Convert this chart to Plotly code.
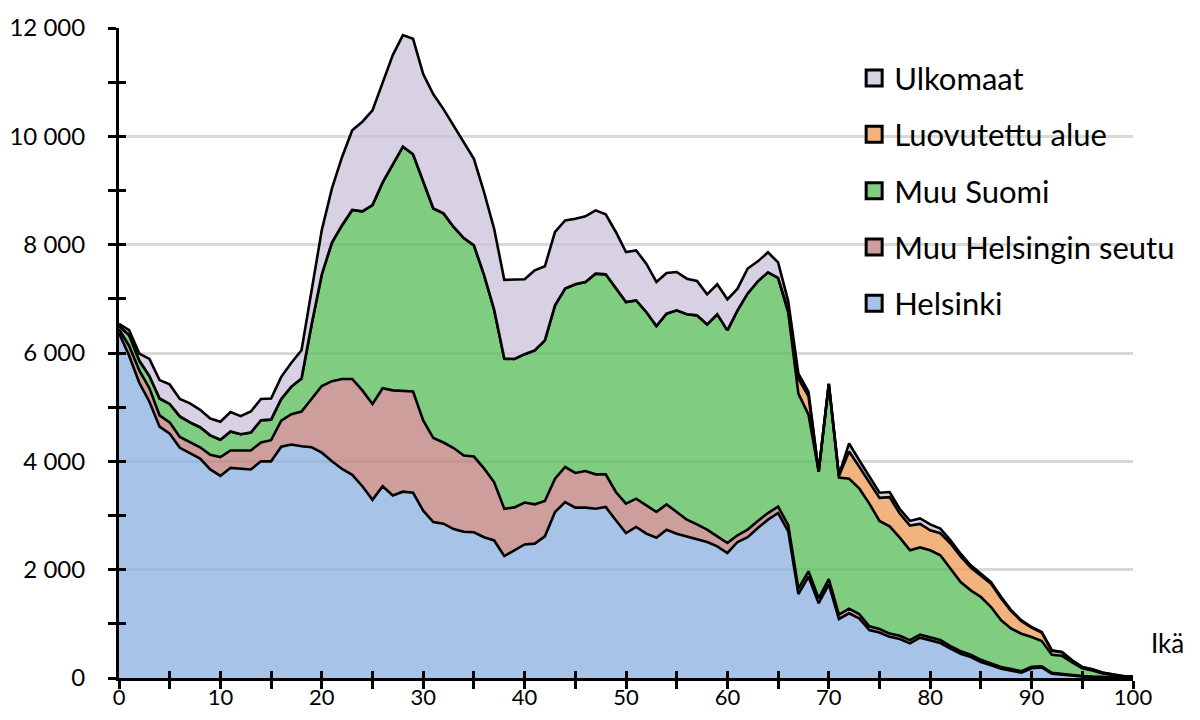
import plotly.graph_objects as go

ika = list(range(0, 101))

helsinki = [6370, 5950, 5450, 5100, 4640, 4510, 4250, 4150, 4050, 3850,
            3730, 3880, 3870, 3850, 4000, 4000, 4270, 4310, 4280, 4260,
            4160, 4000, 3860, 3750, 3540, 3290, 3540, 3370, 3440, 3420,
            3090, 2880, 2850, 2750, 2700, 2690, 2600, 2540, 2250, 2350,
            2465, 2480, 2615, 3065, 3249, 3145, 3145, 3126, 3157, 2911,
            2677, 2788, 2665, 2591, 2738, 2665, 2615, 2554, 2511, 2431,
            2308, 2511, 2600, 2769, 2923, 3046, 2708, 1550, 1870, 1380,
            1730, 1090, 1195, 1100, 885, 840, 760, 720, 640, 745,
            695, 646, 541, 449, 388, 295, 234, 172, 135, 100,
            180, 195, 80, 60, 45, 30, 20, 12, 6, 3, 2]

muu_hki_seutu = [70, 180, 230, 250, 210, 210, 200, 210, 210, 270,
                 350, 320, 330, 350, 350, 390, 480, 560, 640, 890,
                 1230, 1480, 1660, 1770, 1770, 1770, 1810, 1940, 1866, 1870,
                 1665, 1550, 1497, 1495, 1409, 1398, 1270, 1072, 875, 800,
                 775, 726, 653, 615, 646, 640, 677, 634, 603, 523,
                 541, 523, 523, 474, 468, 400, 308, 283, 227, 184,
                 184, 123, 140, 131, 122, 119, 112, 100, 100, 90,
                 95, 80, 85, 80, 70, 65, 60, 60, 60, 55,
                 55, 54, 49, 46, 42, 40, 36, 33, 30, 25,
                 25, 20, 15, 12, 10, 7, 5, 3, 2, 1, 1]

muu_suomi = [60, 200, 180, 225, 310, 340, 380, 360, 370, 360,
             320, 350, 300, 330, 410, 380, 400, 510, 610, 1380,
             2060, 2560, 2840, 3120, 3305, 3670, 3800, 4170, 4504, 4380,
             4422, 4237, 4231, 4082, 4013, 3898, 3572, 3184, 2770, 2740,
             2738, 2843, 2966, 3200, 3293, 3483, 3489, 3705, 3692, 3772,
             3724, 3661, 3569, 3433, 3520, 3723, 3791, 3858, 3791, 4099,
             3926, 4154, 4360, 4423, 4444, 4220, 3920, 3600, 2890, 2340,
             3605, 2530, 2400, 2320, 2265, 1995, 1980, 1810, 1660, 1610,
             1607, 1565, 1428, 1277, 1188, 1160, 1041, 860, 746, 693,
             552, 468, 335, 338, 235, 143, 115, 70, 47, 26, 17]

luovutettu = [0] * 66 + [50, 280, 340, 0, 0, 30, 500, 400, 390, 425,
                         540, 445, 455, 435, 370, 407, 464, 473, 422, 396,
                         431, 405, 318, 232, 173, 156, 73, 64, 31, 20,
                         17, 13, 9, 4, 3]

ulkomaat = [40, 90, 130, 315, 340, 360, 320, 350, 320, 310,
            330, 360, 335, 390, 390, 390, 410, 440, 520, 620,
            820, 1000, 1260, 1470, 1655, 1750, 1850, 2020, 2060, 2130,
            1973, 2108, 1925, 1870, 1768, 1599, 1528, 1494, 1455, 1465,
            1382, 1477, 1366, 1354, 1261, 1212, 1212, 1169, 1108, 1028,
            923, 923, 892, 813, 751, 707, 658, 634, 554, 554,
            573, 400, 460, 369, 369, 289, 164, 90, 80, 0,
            0, 20, 150, 120, 110, 95, 94, 85, 85, 100,
            110, 85, 60, 50, 40, 35, 30, 25, 20, 15,
            12, 10, 8, 6, 5, 3, 3, 2, 1, 1, 2]

nimet = ["Helsinki", "Muu Helsingin seutu", "Muu Suomi", "Luovutettu alue", "Ulkomaat"]
sarjat = [helsinki, muu_hki_seutu, muu_suomi, luovutettu, ulkomaat]
# semi-transparent fills so the gridlines show faintly through the areas
taytot = ["rgba(138,175,223,0.75)", "rgba(188,126,123,0.75)", "rgba(86,187,86,0.75)",
          "rgba(238,155,84,0.75)", "rgba(203,194,218,0.75)"]
selitevarit = ["#A7C3E7", "#CD9E9C", "#80CC80", "#F2B47F", "#D8D1E3"]

fig = go.Figure()
for nimi, arvot, tayte in zip(nimet, sarjat, taytot):
    fig.add_trace(go.Scatter(x=ika, y=arvot, name=nimi, stackgroup="ika", mode="lines",
                             line=dict(color="black", width=2.6), fillcolor=tayte,
                             showlegend=False))

# legend entries with square symbols, top to bottom
for nimi, vari in zip(nimet[::-1], selitevarit[::-1]):
    fig.add_trace(go.Scatter(x=[None], y=[None], mode="markers", name=nimi, legendgroup=nimi,
                             marker=dict(symbol="square", size=18, color=vari,
                                         line=dict(color="black", width=3))))

# helper trace for overlay axes (inner half of the crossing tick marks)
fig.add_trace(go.Scatter(x=ika, y=helsinki, xaxis="x2", yaxis="y2", mode="lines",
                         line=dict(width=0), showlegend=False, hoverinfo="skip"))

# page body has an 8px margin, so the figure is sized to fit inside it
fig.update_layout(
    width=1184, height=704,
    margin=dict(l=111, r=57, t=20, b=34),
    paper_bgcolor="white", plot_bgcolor="white",
    font=dict(family="Lato", size=24, color="black"),
    separators=", ",
    xaxis=dict(range=[0, 100], dtick=10, ticks="outside", ticklen=8, tickwidth=2.5,
               tickcolor="black", showline=True, linecolor="black", linewidth=3,
               showgrid=False, zeroline=False, automargin=False,
               ticklabelstandoff=-10, tickfont=dict(size=22),
               minor=dict(dtick=5, ticks="outside", ticklen=8, tickwidth=2.5, tickcolor="black")),
    yaxis=dict(range=[0, 12000], dtick=2000, ticks="outside", ticklen=8, tickwidth=2.5,
               tickcolor="black", showline=True, linecolor="black", linewidth=3,
               showgrid=True, gridcolor="#D9D9D9", gridwidth=3, zeroline=False,
               tickformat=",d", separatethousands=True, automargin=False,
               ticklabelstandoff=18,
               minor=dict(dtick=1000, ticks="outside", ticklen=8, tickwidth=2.5, tickcolor="black")),
    xaxis2=dict(overlaying="x", anchor="y2", range=[0, 100], dtick=5, ticks="inside",
                ticklen=7, tickwidth=2.5, tickcolor="black", showticklabels=False,
                showgrid=False, zeroline=False, showline=False, automargin=False),
    yaxis2=dict(overlaying="y", anchor="x2", range=[0, 12000], dtick=1000, ticks="inside",
                ticklen=7, tickwidth=2.5, tickcolor="black", showticklabels=False,
                showgrid=False, zeroline=False, showline=False, automargin=False),
    legend=dict(x=0.725, y=0.964, xanchor="left", yanchor="top", bgcolor="rgba(0,0,0,0)",
                font=dict(size=31), tracegroupgap=13, traceorder="grouped"),
    annotations=[dict(text="Ikä", xref="paper", yref="paper", x=1.034, y=0.054,
                      xanchor="center", yanchor="middle",
                      showarrow=False, font=dict(size=26))],
)

fig.write_html("out.html")
